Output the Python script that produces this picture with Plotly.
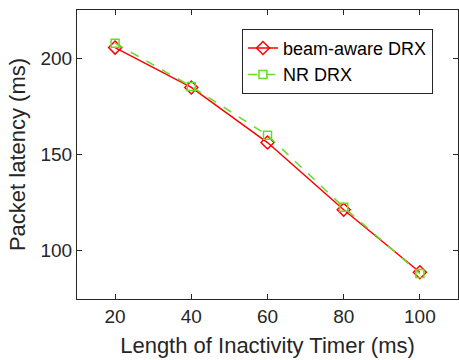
import plotly.graph_objects as go

timer = [20, 40, 60, 80, 100]
beam_aware = [205.5, 184.8, 156.2, 121.3, 88.9]
nr_drx = [207.8, 185.3, 160.0, 122.6, 88.2]

FONT = "Liberation Sans, Arial"
fig = go.Figure()
fig.add_trace(go.Scatter(
    x=timer, y=beam_aware, name="beam-aware DRX", mode="lines+markers",
    line=dict(color="#ff0000", width=1.5),
    marker=dict(symbol="diamond-open", size=10, color="#ff0000", line=dict(width=1.5))))
fig.add_trace(go.Scatter(
    x=timer, y=nr_drx, name="NR DRX", mode="lines+markers",
    line=dict(color="#66dd22", width=1.5, dash="dash"),
    marker=dict(symbol="square-open", size=8, color="#66dd22", line=dict(width=1.5))))

axis_common = dict(showgrid=False, zeroline=False, showline=True, linecolor="#262626",
                   linewidth=1, mirror="ticks", ticks="inside", ticklen=5,
                   tickcolor="#262626", tickfont=dict(family=FONT, size=19, color="#262626"))
fig.update_xaxes(range=[10, 110], tickvals=[20, 40, 60, 80, 100],
                 title=dict(text="Length of Inactivity Timer (ms)",
                            font=dict(family=FONT, size=22, color="#262626"), standoff=11),
                 **axis_common)
fig.update_yaxes(range=[75, 225], tickvals=[100, 150, 200],
                 title=dict(text="Packet latency (ms)",
                            font=dict(family=FONT, size=22, color="#262626"), standoff=8),
                 **axis_common)
fig.update_layout(
    width=459, height=360,
    margin=dict(l=77, r=1, t=10, b=61),
    plot_bgcolor="white", paper_bgcolor="white",
    legend=dict(x=0.433, y=0.935, xanchor="left", yanchor="top",
                bgcolor="white", bordercolor="#262626", borderwidth=1,
                font=dict(family=FONT, size=18, color="#000000"),
                tracegroupgap=0, itemwidth=30),
    showlegend=True,
)
fig.write_html("out.html")
